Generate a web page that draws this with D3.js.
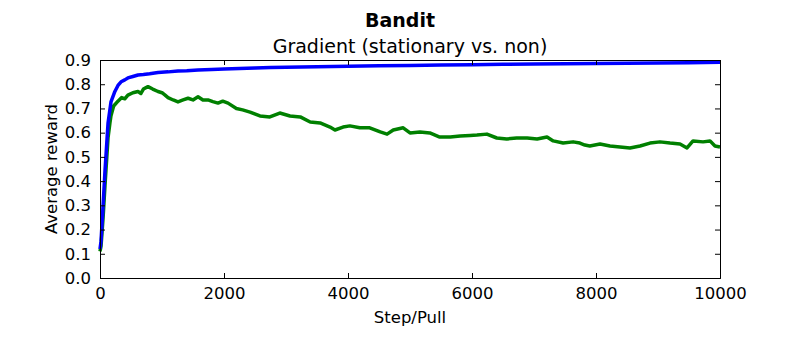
<!DOCTYPE html>
<meta charset="utf-8">
<style>
body { margin: 0; background: #fff; }
text { font-family: "DejaVu Sans", sans-serif; fill: #000; }
.tick text { font-size: 16.5px; }
.line { fill: none; stroke-width: 3.5px; stroke-linejoin: round; }
</style>
<body>
<script src="https://d3js.org/d3.v7.min.js"></script>
<script>
// stationary run (blue)
var blueSteps = [0, 16, 50, 80, 110, 130, 177, 240, 290, 340, 400, 450, 530, 613, 700, 800, 935, 1100, 1258, 1400, 1581, 1800, 2000, 2250, 2500, 2750, 3000, 3500, 4000, 4500, 5000, 5500, 6000, 6500, 7000, 7500, 8000, 8500, 9000, 9500, 10000];
var blueValues = [0.12, 0.15, 0.30, 0.44, 0.56, 0.64, 0.727, 0.77, 0.795, 0.81, 0.818, 0.826, 0.832, 0.838, 0.84, 0.843, 0.848, 0.851, 0.855, 0.856, 0.859, 0.861, 0.863, 0.865, 0.867, 0.869, 0.870, 0.872, 0.874, 0.876, 0.877, 0.879, 0.880, 0.882, 0.883, 0.885, 0.886, 0.887, 0.888, 0.889, 0.891];

// non-stationary run (green)
var greenSteps = [0, 16, 50, 80, 110, 130, 160, 177, 220, 290, 350, 400, 450, 530, 613, 660, 700, 774, 850, 935, 1000, 1050, 1097, 1180, 1258, 1340, 1420, 1500, 1581, 1660, 1742, 1820, 1903, 1980, 2065, 2200, 2300, 2420, 2580, 2740, 2900, 3065, 3230, 3390, 3550, 3710, 3790, 3920, 4030, 4190, 4350, 4520, 4630, 4730, 4890, 5000, 5160, 5320, 5480, 5650, 5810, 5970, 6080, 6240, 6400, 6560, 6720, 6890, 7050, 7210, 7310, 7470, 7630, 7740, 7820, 7900, 8065, 8226, 8387, 8548, 8710, 8871, 9032, 9194, 9355, 9468, 9565, 9726, 9839, 9919, 10000];
var greenValues = [0.11, 0.13, 0.25, 0.38, 0.50, 0.58, 0.64, 0.67, 0.71, 0.73, 0.745, 0.74, 0.755, 0.765, 0.77, 0.762, 0.78, 0.79, 0.78, 0.77, 0.765, 0.755, 0.745, 0.735, 0.727, 0.735, 0.742, 0.735, 0.748, 0.735, 0.735, 0.728, 0.722, 0.73, 0.722, 0.70, 0.694, 0.685, 0.669, 0.665, 0.681, 0.669, 0.665, 0.644, 0.64, 0.623, 0.611, 0.623, 0.628, 0.62, 0.62, 0.603, 0.594, 0.611, 0.62, 0.599, 0.603, 0.599, 0.582, 0.582, 0.586, 0.588, 0.59, 0.594, 0.578, 0.574, 0.578, 0.578, 0.574, 0.582, 0.566, 0.557, 0.562, 0.557, 0.549, 0.545, 0.553, 0.545, 0.541, 0.537, 0.545, 0.557, 0.562, 0.557, 0.553, 0.537, 0.566, 0.562, 0.566, 0.545, 0.541];

var xTicks = [0, 2000, 4000, 6000, 8000, 10000];
var yTicks = [0, 0.1, 0.2, 0.3, 0.4, 0.5, 0.6, 0.7, 0.8, 0.9];

var margin = {top: 60, right: 80, bottom: 84, left: 100},
    width = 800 - margin.left - margin.right,
    height = 362 - margin.top - margin.bottom;

var svg = d3.select("body").append("svg")
    .attr("width", 800)
    .attr("height", 362);
var g = svg.append("g")
    .attr("transform", "translate(" + margin.left + "," + margin.top + ")");

var x = d3.scaleLinear().domain([0, 10000]).range([0, width]);
var y = d3.scaleLinear().domain([0, 0.9]).range([height, 0]);

var line = d3.line()
    .x(function(d) { return x(d[0]); })
    .y(function(d) { return y(d[1]); });

g.append("path")
    .datum(d3.zip(greenSteps, greenValues))
    .attr("class", "line")
    .attr("stroke", "#008000")
    .attr("d", line);
g.append("path")
    .datum(d3.zip(blueSteps, blueValues))
    .attr("class", "line")
    .attr("stroke", "#0000ff")
    .attr("d", line);

// axes, ticks pointing inward on all four sides
g.append("g")
    .attr("transform", "translate(0," + height + ")")
    .call(d3.axisBottom(x).tickValues(xTicks).tickSize(-5).tickPadding(9).tickFormat(d3.format("d")));
g.append("g")
    .call(d3.axisTop(x).tickValues(xTicks).tickSize(-5).tickFormat(""));
g.append("g")
    .call(d3.axisLeft(y).tickValues(yTicks).tickSize(-5).tickPadding(9).tickFormat(d3.format(".1f")));
g.append("g")
    .attr("transform", "translate(" + width + ",0)")
    .call(d3.axisRight(y).tickValues(yTicks).tickSize(-5).tickFormat(""));
g.selectAll(".domain").attr("stroke", "#000");

svg.append("text")
    .attr("x", 400).attr("y", 27)
    .attr("text-anchor", "middle")
    .style("font-size", "19px").style("font-weight", "bold")
    .text("Bandit");
svg.append("text")
    .attr("x", margin.left + width / 2).attr("y", 53)
    .attr("text-anchor", "middle")
    .style("font-size", "19px")
    .text("Gradient (stationary vs. non)");
svg.append("text")
    .attr("x", margin.left + width / 2).attr("y", 323)
    .attr("text-anchor", "middle")
    .style("font-size", "16.5px")
    .text("Step/Pull");
svg.append("text")
    .attr("transform", "translate(57," + (margin.top + height / 2) + ") rotate(-90)")
    .attr("text-anchor", "middle")
    .style("font-size", "16.5px")
    .text("Average reward");
</script>
</body>
